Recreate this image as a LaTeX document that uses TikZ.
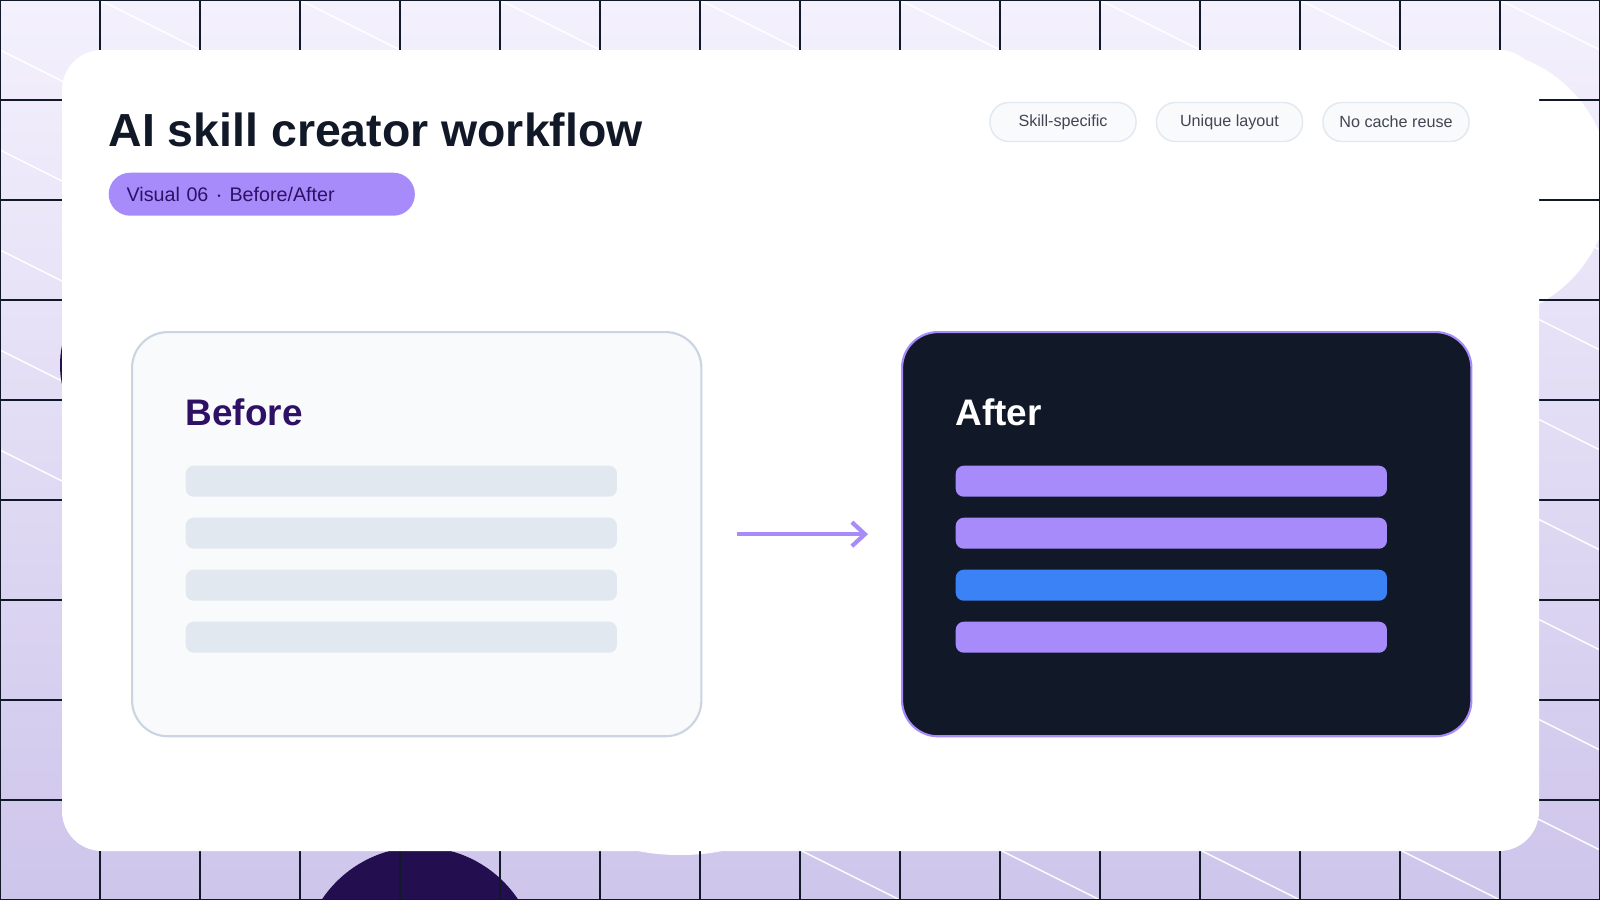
\documentclass[tikz,border=0pt]{standalone}
\usepackage{fontspec}
\setmainfont{Liberation Sans}
\usetikzlibrary{positioning, calc, arrows.meta}

\definecolor{ink}{HTML}{111827}
\definecolor{deep}{HTML}{2E1065}
\definecolor{night}{HTML}{230F4F}
\definecolor{violet}{HTML}{A78BFA}
\definecolor{sky}{HTML}{3B82F6}
\definecolor{paper}{HTML}{F8FAFC}
\definecolor{mist}{HTML}{E2E8F0}
\definecolor{slate}{HTML}{CBD5E1}
\definecolor{bgtop}{HTML}{F4F1FD}
\definecolor{bgbot}{HTML}{CEC5EB}

\tikzset{
    tag/.style={draw=mist, fill=paper, rounded corners=0.19cm, minimum width=1.46cm,
        minimum height=0.39cm, inner sep=1pt, text=ink!80, font=\fontsize{4.6}{6}\selectfont},
    panel/.style={rounded corners=0.36cm, minimum width=5.69cm, minimum height=4.04cm,
        line width=0.6pt, anchor=north west},
    bar/.style={rounded corners=0.08cm, minimum width=4.31cm, minimum height=0.31cm,
        inner sep=0pt, anchor=north west},
}

\begin{document}
\begin{tikzpicture}[x=0.01cm, y=-0.01cm]
    \useasboundingbox (0,0) rectangle (1600,900);

    % Backdrop
    \shade[top color=bgtop, bottom color=bgbot] (0,0) rectangle (1600,900);
    \begin{scope}
        \clip (0,0) rectangle (1600,900);
        \foreach \s in {-900,-700,...,1700}
            \draw[white, line width=0.4pt] (\s,0) -- ++(1800,900);
        \fill[night] (420,965) circle (118);
        \fill[night] (155,365) circle (95);
        \fill[white] (1475,185) circle (135);
        \fill[white] (680,835) ellipse (70 and 20);
        \foreach \g in {0,100,...,1600}
            \draw[ink, line width=0.5pt] (\g,0) -- (\g,900);
        \foreach \g in {0,100,...,900}
            \draw[ink, line width=0.5pt] (0,\g) -- (1600,\g);
    \end{scope}

    % Card
    \fill[white, rounded corners=0.4cm] (62,50) rectangle (1539,851);

    % Heading
    \node[anchor=base west, inner sep=0pt, text=ink, font=\bfseries\fontsize{13.2}{16}\selectfont]
        (title) at (108,146) {AI skill creator workflow};
    \node[anchor=north west, fill=violet, rounded corners=0.215cm, minimum width=3.06cm,
        minimum height=0.43cm, text=deep, font=\fontsize{5.6}{7}\selectfont, align=left,
        text width=2.7cm] (badge) at (108,172) {Visual 06 $\cdot$ Before/After};

    % Tags
    \node[tag] (skill) at (1063,122) {Skill-specific};
    \node[tag, right=0.19cm of skill] (layout) {Unique layout};
    \node[tag, right=0.19cm of layout] (cache) {No cache reuse};

    % Before / After panels
    \node[panel, draw=slate, fill=paper] (before) at (131,331) {};
    \node[panel, draw=violet, fill=ink] (after) at (901,331) {};
    \node[anchor=base west, inner sep=0pt, text=deep, font=\bfseries\fontsize{10.5}{12}\selectfont]
        (beforelbl) at (185,425) {Before};
    \node[anchor=base west, inner sep=0pt, text=white, font=\bfseries\fontsize{10.5}{12}\selectfont]
        (afterlbl) at (955,425) {After};
    \foreach \y/\c in {465/violet, 517/violet, 569/sky, 621/violet} {
        \node[bar, fill=mist] at (185,\y) {};
        \node[bar, fill=\c] at (955,\y) {};
    }

    % Arrow
    \draw[violet, line width=1.2pt, -{Straight Barb[length=0.13cm, width=0.24cm]}]
        ($(before.east)+(35,0)$) -- ($(after.west)-(33,0)$);
\end{tikzpicture}
\end{document}
